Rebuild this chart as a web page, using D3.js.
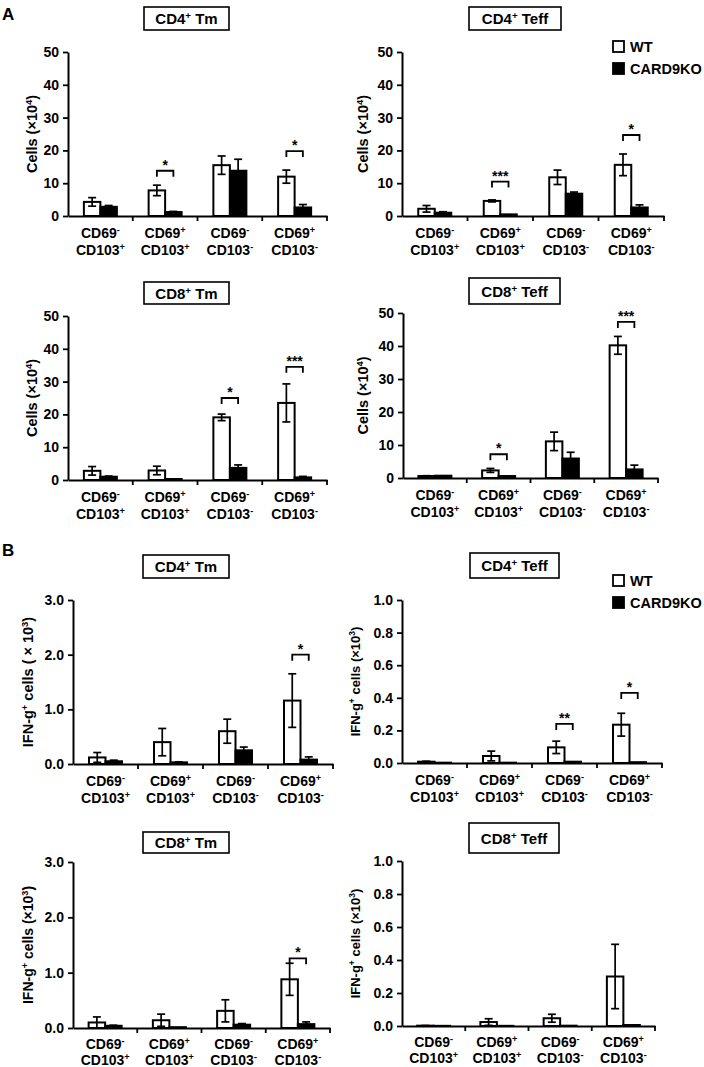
<!DOCTYPE html>
<html><head><meta charset="utf-8">
<script src="https://cdn.jsdelivr.net/npm/d3@7"></script>
<style>
body{margin:0;background:#fff;}
text{font-family:"Liberation Sans",Arial,sans-serif;font-weight:bold;fill:#000;}
</style></head>
<body><svg id="c" width="704" height="1067"></svg>
<script>
// ---------- data ----------
const cd69Sign = ["-", "+", "-", "+"];
const cd103Sign = ["+", "+", "-", "-"];
const categories = ["CD69-CD103+", "CD69+CD103+", "CD69-CD103-", "CD69+CD103-"];
const groups = ["WT", "CARD9KO"];

const ticksCells = [0, 10, 20, 30, 40, 50];
const ticksIfnTm = [0, 1, 2, 3];
const ticksIfnTeff = [0, 0.2, 0.4, 0.6, 0.8, 1.0];

// A: Cells (x10^4)
const aCd4TmWT = [4.3, 7.8, 15.5, 12.0];
const aCd4TmWTErr = [1.3, 1.6, 2.8, 2.0];
const aCd4TmKO = [2.8, 1.2, 13.8, 2.6];
const aCd4TmKOErr = [0.4, 0.2, 3.5, 0.9];
const aCd4TmSig = [null, "*", null, "*"];
const aCd4TmSigAt = [null, 13.8, null, 19.8];

const aCd4TeffWT = [2.2, 4.6, 11.8, 15.6];
const aCd4TeffWTErr = [1.0, 0.3, 2.2, 3.3];
const aCd4TeffKO = [1.0, 0.5, 6.8, 2.6];
const aCd4TeffKOErr = [0.3, 0.1, 0.5, 0.8];
const aCd4TeffSig = [null, "***", null, "*"];
const aCd4TeffSigAt = [null, 10.5, null, 24.7];

const aCd8TmWT = [2.8, 2.9, 19.1, 23.5];
const aCd8TmWTErr = [1.3, 1.3, 1.0, 5.8];
const aCd8TmKO = [1.0, 0.3, 3.7, 0.8];
const aCd8TmKOErr = [0.2, 0.1, 0.9, 0.3];
const aCd8TmSig = [null, null, "*", "***"];
const aCd8TmSigAt = [null, null, 25.0, 34.5];

const aCd8TeffWT = [0.6, 2.3, 11.1, 40.2];
const aCd8TeffWTErr = [0.1, 0.6, 2.8, 2.7];
const aCd8TeffKO = [0.7, 0.6, 5.9, 2.6];
const aCd8TeffKOErr = [0.1, 0.1, 1.9, 1.3];
const aCd8TeffSig = [null, "*", null, "***"];
const aCd8TeffSigAt = [null, 7.2, null, 47.3];

// B: IFN-g+ cells (x10^3)
const bCd4TmWT = [0.12, 0.40, 0.60, 1.16];
const bCd4TmWTErr = [0.09, 0.25, 0.22, 0.49];
const bCd4TmKO = [0.05, 0.03, 0.25, 0.08];
const bCd4TmKOErr = [0.02, 0.01, 0.06, 0.05];
const bCd4TmSig = [null, null, null, "*"];
const bCd4TmSigAt = [null, null, null, 2.0];

const bCd4TeffWT = [0.008, 0.043, 0.096, 0.235];
const bCd4TeffWTErr = [0.003, 0.03, 0.038, 0.07];
const bCd4TeffKO = [0.002, 0.002, 0.008, 0.005];
const bCd4TeffKOErr = [0.001, 0.001, 0.003, 0.002];
const bCd4TeffSig = [null, null, "**", "*"];
const bCd4TeffSigAt = [null, null, 0.24, 0.43];

const bCd8TmWT = [0.10, 0.14, 0.31, 0.88];
const bCd8TmWTErr = [0.10, 0.11, 0.20, 0.29];
const bCd8TmKO = [0.04, 0.015, 0.06, 0.07];
const bCd8TmKOErr = [0.01, 0.005, 0.02, 0.04];
const bCd8TmSig = [null, null, null, "*"];
const bCd8TmSigAt = [null, null, null, 1.26];

const bCd8TeffWT = [0.002, 0.024, 0.047, 0.30];
const bCd8TeffWTErr = [0.001, 0.02, 0.024, 0.195];
const bCd8TeffKO = [0.001, 0.001, 0.002, 0.006];
const bCd8TeffKOErr = [0.001, 0.001, 0.001, 0.002];
const bCd8TeffSig = [null, null, null, null];
const bCd8TeffSigAt = [null, null, null, null];

// ---------- drawing ----------
const svg = d3.select("#c");

function supText(sel, parts) {
  let prevSup = false;
  parts.forEach(([t, s]) => {
    const ts = sel.append("tspan").text(t);
    if (s && !prevSup) ts.attr("dy", -5).attr("font-size", "0.65em");
    else if (s) ts.attr("font-size", "0.65em");
    else if (!s && prevSup) ts.attr("dy", 5);
    prevSup = s;
  });
}

function panel(cfg) {
  const g = svg.append("g");
  const x = d3.scaleBand().domain(categories).range([cfg.x0, cfg.xEnd]).paddingInner(0).paddingOuter(0);
  const y = d3.scaleLinear().domain([0, cfg.max]).range([cfg.yBot, cfg.yTop]);
  const bw = 16.5;
  const sub = d3.scaleBand().domain(groups).range([-bw, bw]);

  // title box
  const [bx1, by1, bx2, by2] = cfg.box;
  g.append("rect").attr("x", bx1).attr("y", by1).attr("width", bx2 - bx1).attr("height", by2 - by1)
    .attr("fill", "#fff").attr("stroke", "#000").attr("stroke-width", 1.6);
  const tt = g.append("text").attr("x", (bx1 + bx2) / 2).attr("y", (by1 + by2) / 2 + 5.5)
    .attr("text-anchor", "middle").attr("font-size", 15);
  supText(tt, [[cfg.title[0], false], ["+", true], [cfg.title[1], false]]);

  // y axis
  const ya = d3.axisLeft(y).tickValues(cfg.ticks).tickFormat(cfg.fmt).tickSize(5).tickSizeOuter(0).tickPadding(4);
  const yg = g.append("g").attr("transform", `translate(${cfg.x0},0)`).call(ya);
  yg.select(".domain").attr("stroke-width", 2);
  yg.selectAll(".tick line").attr("stroke-width", 1.8);
  yg.selectAll(".tick text").attr("font-size", 14).attr("font-family", "Liberation Sans, Arial, sans-serif").attr("font-weight", "bold").attr("fill", "#000");

  // x axis
  const xa = d3.axisBottom(x).tickSize(0).tickFormat("").tickSizeOuter(0);
  const xg = g.append("g").attr("transform", `translate(0,${cfg.yBot})`).call(xa);
  xg.select(".domain").attr("stroke-width", 2);
  const bounds = categories.map(c => x(c)).concat([x(categories[3]) + x.bandwidth()]);
  g.selectAll(".xb").data(bounds.slice(1)).join("line")
    .attr("x1", d => d).attr("x2", d => d).attr("y1", cfg.yBot).attr("y2", cfg.yBot + 5)
    .attr("stroke", "#000").attr("stroke-width", 1.8);

  // category labels
  categories.forEach((c, i) => {
    const cx = x(c) + x.bandwidth() / 2;
    const t1 = g.append("text").attr("x", cx).attr("y", cfg.yBot + cfg.l1).attr("text-anchor", "middle").attr("font-size", 14);
    supText(t1, [["CD69", false], [cd69Sign[i], true]]);
    const t2 = g.append("text").attr("x", cx).attr("y", cfg.yBot + cfg.l2).attr("text-anchor", "middle").attr("font-size", 14);
    supText(t2, [["CD103", false], [cd103Sign[i], true]]);
  });

  // bars
  const rows = [];
  categories.forEach((c, i) => {
    rows.push({c, grp: "WT", v: cfg.wt[i], e: cfg.wtErr[i]});
    rows.push({c, grp: "CARD9KO", v: cfg.ko[i], e: cfg.koErr[i]});
  });
  const cxOf = d => x(d.c) + x.bandwidth() / 2 + sub(d.grp);
  g.selectAll(".bar").data(rows).join("rect")
    .attr("x", d => cxOf(d)).attr("width", sub.bandwidth())
    .attr("y", d => y(d.v)).attr("height", d => Math.max(0.0, y(0) - y(d.v)))
    .attr("fill", d => d.grp === "WT" ? "#fff" : "#000")
    .attr("stroke", "#000").attr("stroke-width", 2);

  // error bars
  rows.forEach(d => {
    const ex = cxOf(d) + sub.bandwidth() / 2;
    const top = y(d.v + d.e), bot = y(Math.max(0, d.v - d.e));
    if (y(d.v) - top < 0.5 && d.grp !== "WT") return;
    g.append("line").attr("x1", ex).attr("x2", ex).attr("y1", top).attr("y2", bot).attr("stroke", "#000").attr("stroke-width", 1.7);
    g.append("line").attr("x1", ex - 4).attr("x2", ex + 4).attr("y1", top).attr("y2", top).attr("stroke", "#000").attr("stroke-width", 1.7);
    if (d.grp === "WT") g.append("line").attr("x1", ex - 4).attr("x2", ex + 4).attr("y1", bot).attr("y2", bot).attr("stroke", "#000").attr("stroke-width", 1.7);
  });

  // significance brackets
  categories.forEach((c, i) => {
    if (!cfg.sig[i]) return;
    const xa1 = x(c) + x.bandwidth() / 2 + sub("WT") + sub.bandwidth() / 2;
    const xa2 = x(c) + x.bandwidth() / 2 + sub("CARD9KO") + sub.bandwidth() / 2;
    const yy = y(cfg.sigAt[i]);
    g.append("path").attr("d", `M${xa1},${yy + 6}V${yy}H${xa2}V${yy + 6}`)
      .attr("fill", "none").attr("stroke", "#000").attr("stroke-width", 1.8);
    g.append("text").attr("x", (xa1 + xa2) / 2).attr("y", yy - 1).attr("text-anchor", "middle")
      .attr("font-size", 14).text(cfg.sig[i]);
  });

  // y label
  const yl = g.append("text").attr("transform", `translate(${cfg.ylx},${(cfg.yTop + cfg.yBot) / 2}) rotate(-90)`)
    .attr("text-anchor", "middle").attr("font-size", cfg.ylSize);
  supText(yl, cfg.ylabel);

  // legend
  if (cfg.legend) {
    const [lx, ly] = cfg.legend;
    groups.forEach((gname, k) => {
      const yy = ly + k * 22;
      g.append("rect").attr("x", lx).attr("y", yy).attr("width", 11).attr("height", 11)
        .attr("fill", gname === "WT" ? "#fff" : "#000").attr("stroke", "#000").attr("stroke-width", 1.8);
      g.append("text").attr("x", lx + 17).attr("y", yy + 11).attr("font-size", 14.5).text(gname);
    });
  }
}

const f0 = d3.format("d"), f1 = d3.format(".1f");
const cellsLabel = [["Cells (\u00d710", false], ["4", true], [")", false]];
const ifnLabel = [["IFN-g", false], ["+", true], [" cells (\u00d710", false], ["3", true], [")", false]];
const ifnLabel2 = [["IFN-g", false], ["+", true], [" cells ( \u00d7 10", false], ["3", true], [")", false]];

panel({x0: 68, xEnd: 327, yTop: 52, yBot: 216, max: 50, ticks: ticksCells, fmt: f0, l1: 22, l2: 39,
  wt: aCd4TmWT, wtErr: aCd4TmWTErr, ko: aCd4TmKO, koErr: aCd4TmKOErr, sig: aCd4TmSig, sigAt: aCd4TmSigAt,
  title: ["CD4", " Tm"], box: [144, 7, 229, 30], ylabel: cellsLabel, ylx: 37, ylSize: 14.5});
panel({x0: 402, xEnd: 664, yTop: 52, yBot: 216, max: 50, ticks: ticksCells, fmt: f0, l1: 22, l2: 39,
  wt: aCd4TeffWT, wtErr: aCd4TeffWTErr, ko: aCd4TeffKO, koErr: aCd4TeffKOErr, sig: aCd4TeffSig, sigAt: aCd4TeffSigAt,
  title: ["CD4", " Teff"], box: [469, 7, 561, 30], ylabel: cellsLabel, ylx: 368, ylSize: 14.5, legend: [613, 41]});
panel({x0: 68, xEnd: 327, yTop: 316, yBot: 480, max: 50, ticks: ticksCells, fmt: f0, l1: 22, l2: 39,
  wt: aCd8TmWT, wtErr: aCd8TmWTErr, ko: aCd8TmKO, koErr: aCd8TmKOErr, sig: aCd8TmSig, sigAt: aCd8TmSigAt,
  title: ["CD8", " Tm"], box: [144, 282, 229, 304], ylabel: cellsLabel, ylx: 37, ylSize: 14.5});
panel({x0: 403, xEnd: 658, yTop: 313, yBot: 478, max: 50, ticks: ticksCells, fmt: f0, l1: 22, l2: 39,
  wt: aCd8TeffWT, wtErr: aCd8TeffWTErr, ko: aCd8TeffKO, koErr: aCd8TeffKOErr, sig: aCd8TeffSig, sigAt: aCd8TeffSigAt,
  title: ["CD8", " Teff"], box: [469, 278, 560, 304], ylabel: cellsLabel, ylx: 368, ylSize: 14.5});
panel({x0: 73, xEnd: 333, yTop: 600, yBot: 764, max: 3, ticks: ticksIfnTm, fmt: f1, l1: 22, l2: 39,
  wt: bCd4TmWT, wtErr: bCd4TmWTErr, ko: bCd4TmKO, koErr: bCd4TmKOErr, sig: bCd4TmSig, sigAt: bCd4TmSigAt,
  title: ["CD4", " Tm"], box: [143, 555, 229, 578], ylabel: ifnLabel2, ylx: 33, ylSize: 14.5});
panel({x0: 402, xEnd: 662, yTop: 600, yBot: 763, max: 1, ticks: ticksIfnTeff, fmt: f1, l1: 22, l2: 39,
  wt: bCd4TeffWT, wtErr: bCd4TeffWTErr, ko: bCd4TeffKO, koErr: bCd4TeffKOErr, sig: bCd4TeffSig, sigAt: bCd4TeffSigAt,
  title: ["CD4", " Teff"], box: [470, 553, 559, 578], ylabel: ifnLabel, ylx: 360, ylSize: 13, legend: [613, 575]});
panel({x0: 73, xEnd: 330, yTop: 862, yBot: 1028, max: 3, ticks: ticksIfnTm, fmt: f1, l1: 21, l2: 37,
  wt: bCd8TmWT, wtErr: bCd8TmWTErr, ko: bCd8TmKO, koErr: bCd8TmKOErr, sig: bCd8TmSig, sigAt: bCd8TmSigAt,
  title: ["CD8", " Tm"], box: [143, 832, 229, 853], ylabel: ifnLabel, ylx: 33, ylSize: 14});
panel({x0: 402, xEnd: 655, yTop: 861, yBot: 1026, max: 1, ticks: ticksIfnTeff, fmt: f1, l1: 21, l2: 37,
  wt: bCd8TeffWT, wtErr: bCd8TeffWTErr, ko: bCd8TeffKO, koErr: bCd8TeffKOErr, sig: bCd8TeffSig, sigAt: bCd8TeffSigAt,
  title: ["CD8", " Teff"], box: [469, 823, 559, 853], ylabel: ifnLabel, ylx: 360, ylSize: 13});

svg.append("text").attr("x", 2).attr("y", 20).attr("font-size", 17).text("A");
svg.append("text").attr("x", 2).attr("y", 556).attr("font-size", 17).text("B");
</script></body></html>
